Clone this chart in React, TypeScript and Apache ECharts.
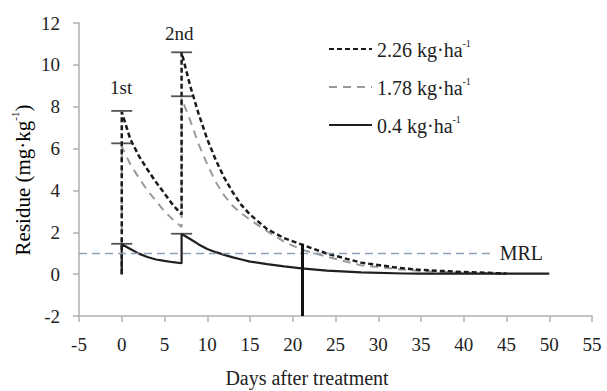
import React, { useEffect, useRef } from "react";
import * as echarts from "echarts";

const FONT = "Liberation Serif";

// 2.26 kg·ha-1 series
const days226 = [0, 0, 1, 2, 3, 4, 5, 6, 7, 7, 8, 9, 10, 11, 12, 13, 14, 15, 17, 19, 21, 24, 28, 32, 35, 40, 45];
const res226 = [0, 7.75, 6.45, 5.65, 5.0, 4.4, 3.85, 3.3, 2.85, 10.6, 9.0, 7.65, 6.45, 5.45, 4.6, 3.9, 3.3, 2.85, 2.15, 1.72, 1.42, 0.98, 0.55, 0.32, 0.2, 0.1, 0.03];

// 1.78 kg·ha-1 series
const days178 = [0, 0, 1, 2, 3, 4, 5, 6, 7, 7, 8, 9, 10, 11, 12, 13, 14, 15, 17, 19, 21, 24, 28, 32, 35, 40, 45];
const res178 = [0, 6.1, 5.25, 4.6, 4.0, 3.5, 3.0, 2.6, 2.25, 8.4, 7.35, 6.2, 5.25, 4.4, 3.75, 3.25, 2.9, 2.6, 2.05, 1.55, 1.18, 0.83, 0.42, 0.25, 0.15, 0.07, 0.02];

// 0.4 kg·ha-1 series
const days04 = [0, 0, 1, 2, 3, 4, 5, 6, 7, 7, 8, 9, 10, 11, 12, 13, 14, 15, 17, 19, 21, 24, 28, 33, 35, 50];
const res04 = [0, 1.43, 1.2, 0.98, 0.82, 0.7, 0.63, 0.57, 0.52, 1.92, 1.68, 1.42, 1.2, 1.05, 0.92, 0.8, 0.7, 0.6, 0.48, 0.37, 0.28, 0.17, 0.08, 0.03, 0.02, 0.02];

// error-bar caps
const capDays = [0, 0, 0, 7, 7, 7];
const capValues = [7.8, 6.25, 1.45, 10.6, 8.5, 1.93];

// reference lines
const mrlValue = 1;
const mrlEndDay = 43.5;
const harvestDay = 21.1;
const harvestTop = 1.45;

const seriesNames = ["2.26 kg·ha", "1.78 kg·ha", "0.4 kg·ha"];
const xTicks = { min: -5, max: 55, interval: 5 };
const yTicks = { min: -2, max: 12, interval: 2 };

const zip = (xs: number[], ys: number[]) => xs.map((x, i) => [x, ys[i]]);

export default function App() {
  const ref = useRef<HTMLDivElement>(null);
  useEffect(() => {
    if (!ref.current) return;
    const chart = echarts.init(ref.current, null, { renderer: "svg" });
    const legendRich = {
      a: { fontFamily: FONT, fontSize: 20, color: "#222", lineHeight: 22, verticalAlign: "bottom" },
      s: { fontFamily: FONT, fontSize: 10, color: "#222", lineHeight: 22, verticalAlign: "top" },
    };
    const titleRich = {
      a: { fontFamily: FONT, fontSize: 21, color: "#222", lineHeight: 24, verticalAlign: "bottom" },
      s: { fontFamily: FONT, fontSize: 11, color: "#222", lineHeight: 24, verticalAlign: "top" },
    };
    chart.setOption({
      animation: false,
      backgroundColor: "#fff",
      textStyle: { fontFamily: FONT },
      grid: { left: 79, right: 15, top: 23, bottom: 75 },
      xAxis: {
        type: "value",
        min: xTicks.min,
        max: xTicks.max,
        interval: xTicks.interval,
        axisLine: { onZero: false, lineStyle: { color: "#b0b0b0", width: 1.5 } },
        axisTick: { show: true, length: 6, lineStyle: { color: "#b0b0b0", width: 1.5 } },
        axisLabel: { fontFamily: FONT, fontSize: 19, color: "#222", margin: 19 },
        splitLine: { show: false },
      },
      yAxis: {
        type: "value",
        min: yTicks.min,
        max: yTicks.max,
        interval: yTicks.interval,
        axisLine: { show: true, onZero: false, lineStyle: { color: "#b0b0b0", width: 1.5 } },
        axisTick: { show: true, length: 6, lineStyle: { color: "#b0b0b0", width: 1.5 } },
        axisLabel: { fontFamily: FONT, fontSize: 19, color: "#222", margin: 19 },
        splitLine: { show: false },
      },
      legend: {
        orient: "vertical",
        left: 328,
        top: 38,
        padding: 0,
        itemWidth: 43,
        itemHeight: 14,
        itemGap: 16,
        data: seriesNames,
        itemStyle: { opacity: 0 },
        formatter: (name: string) => `{a|${name}}{s|-1}`,
        textStyle: { fontFamily: FONT, rich: legendRich },
      },
      graphic: [
        {
          type: "text",
          left: 110,
          top: 78,
          style: { text: "1st", font: `19px ${FONT}`, fill: "#222" },
        },
        {
          type: "text",
          left: 165,
          top: 24,
          style: { text: "2nd", font: `19px ${FONT}`, fill: "#222" },
        },
        {
          type: "text",
          x: 307,
          y: 378,
          style: {
            text: "Days after treatment",
            font: `20px ${FONT}`,
            fill: "#222",
            align: "center",
            verticalAlign: "middle",
          },
        },
        {
          type: "text",
          x: 21,
          y: 180,
          rotation: Math.PI / 2,
          style: {
            text: "{a|Residue (mg·kg}{s|-1}{a|)}",
            rich: titleRich,
            align: "center",
            verticalAlign: "middle",
          },
        },
      ],
      series: [
        {
          name: seriesNames[0],
          type: "line",
          data: zip(days226, res226),
          symbol: "none",
          lineStyle: { color: "#1a1a1a", width: 2.5, type: [5, 3] },
          itemStyle: { color: "#1a1a1a" },
          z: 3,
        },
        {
          name: seriesNames[1],
          type: "line",
          data: zip(days178, res178),
          symbol: "none",
          lineStyle: { color: "#9a9a9a", width: 2, type: [8, 6] },
          itemStyle: { color: "#9a9a9a" },
          z: 2,
        },
        {
          name: seriesNames[2],
          type: "line",
          data: zip(days04, res04),
          symbol: "none",
          lineStyle: { color: "#1f1f1f", width: 2.2, type: "solid" },
          itemStyle: { color: "#1f1f1f" },
          z: 4,
        },
        {
          name: "caps",
          type: "scatter",
          data: zip(capDays, capValues),
          symbol: "rect",
          symbolSize: [21, 1.8],
          itemStyle: { color: "#2a2a2a" },
          z: 5,
          markLine: {
            silent: true,
            symbol: "none",
            data: [
              [
                { coord: [xTicks.min, mrlValue], lineStyle: { color: "#8aa2b8", width: 1.3, type: [8, 5] } },
                {
                  coord: [mrlEndDay, mrlValue],
                  label: {
                    show: true,
                    position: "end",
                    formatter: "MRL",
                    fontFamily: FONT,
                    fontSize: 20,
                    color: "#222",
                    distance: 6,
                  },
                },
              ],
              [
                { coord: [harvestDay, yTicks.min], lineStyle: { color: "#111", width: 3, type: "solid" }, label: { show: false } },
                { coord: [harvestDay, harvestTop] },
              ],
            ],
          },
        },
      ],
    });
    return () => chart.dispose();
  }, []);
  return (
    <>
      <style>{`#chart-root svg text, #chart-root svg tspan { font-family: "Liberation Serif", "Times New Roman", serif !important; }`}</style>
      <div id="chart-root" ref={ref} style={{ position: "fixed", left: 0, top: 0, width: 607, height: 391 }} />
    </>
  );
}
